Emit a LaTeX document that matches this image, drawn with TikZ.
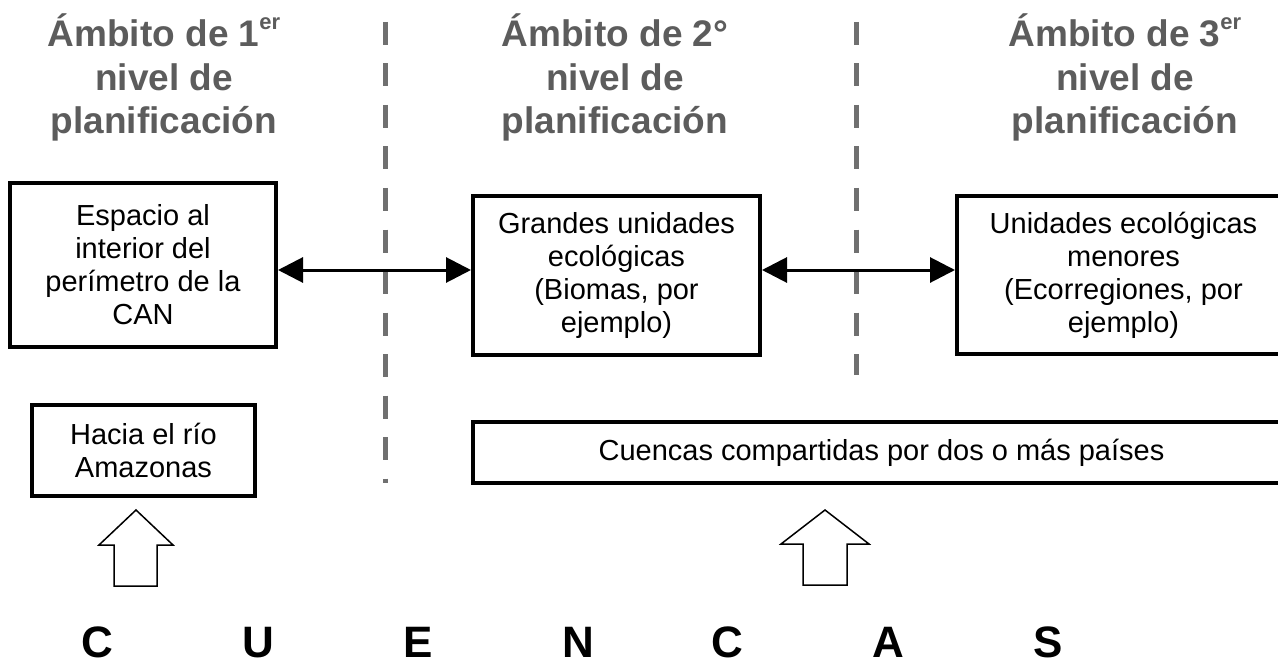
\documentclass[tikz,border=0pt]{standalone}
\usepackage{fontspec}
\setmainfont{Liberation Sans}
\usetikzlibrary{arrows.meta,calc}
\definecolor{hdrgray}{RGB}{92,92,92}
\definecolor{dashgray}{RGB}{112,112,112}
\newcommand{\supx}[1]{\raisebox{17pt}{\fontsize{22}{22}\selectfont\bfseries #1}}
\begin{document}
\begin{tikzpicture}[x=1pt,y=-1pt,
  hdr/.style={anchor=base,text=hdrgray,font=\fontsize{37}{42}\selectfont\bfseries,inner sep=0pt},
  boxnode/.style={draw=black,line width=4pt,align=center,inner sep=0pt,
     font=\fontsize{29}{33}\selectfont},
  dline/.style={draw=dashgray,line width=5pt,dash pattern=on 23pt off 18.5pt},
  dbl/.style={line width=3pt,{Triangle[length=25pt,width=25pt]}-{Triangle[length=25pt,width=25pt]}},
  blockarrow/.style={draw=black,line width=1.5pt,fill=white,line join=miter},
  letter/.style={anchor=base,font=\fontsize{44}{48}\selectfont\bfseries,inner sep=0pt,text depth=0pt}]
\useasboundingbox (0,0) rectangle (1278,666);
\fill[white] (0,0) rectangle (1278,666);

% headers
\node[hdr] (h1a) at (164,47) {Ámbito de 1\supx{er}};
\node[hdr] (h1b) at (164,91) {nivel de};
\node[hdr] (h1c) at (164,134) {planificación};
\node[hdr] (h2a) at (615,47) {Ámbito de 2°};
\node[hdr] (h2b) at (615,91) {nivel de};
\node[hdr] (h2c) at (615,134) {planificación};
\node[hdr] (h3a) at (1125,47) {Ámbito de 3\supx{er}};
\node[hdr] (h3b) at (1125,91) {nivel de};
\node[hdr] (h3c) at (1125,134) {planificación};

% dashed separators
\coordinate (d1t) at (385,22);
\coordinate (d1b) at (385,483);
\coordinate (d2t) at (856,22);
\coordinate (d2b) at (856,375);
\draw[dline] (d1t) -- (d1b);
\draw[dline] (d2t) -- (d2b);

% boxes
\node[boxnode,minimum width=266pt,minimum height=164pt] (b1) at (143,265)
  {Espacio al\\interior del\\perímetro de la\\CAN};
\node[boxnode,minimum width=287pt,minimum height=159pt] (b2) at (616.5,275.5)
  {Grandes unidades\\ecológicas\\(Biomas, por\\ejemplo)};
\node[boxnode,minimum width=333pt,minimum height=158pt] (b3) at (1123.5,275)
  {Unidades ecológicas\\menores\\(Ecorregiones, por\\ejemplo)};
\node[boxnode,minimum width=223pt,minimum height=91pt] (b4) at (143.5,450.5)
  {Hacia el río\\Amazonas};
\node[boxnode,minimum width=817pt,minimum height=61pt] (b5) at (881.5,452.5)
  {Cuencas compartidas por dos o más países};

% double arrows
\draw[dbl] ($(b1.east)+(0,5)$) -- ($(b2.west)+(0,-5.5)$);
\draw[dbl] ($(b2.east)+(0,-5.5)$) -- ($(b3.west)+(0,-5)$);

% block arrows
\draw[blockarrow] (136,510) -- (173,545) -- (157,545) -- (157,586) -- (114,586) -- (114,545) -- (99,545) -- cycle;
\draw[blockarrow] (825,510) -- (869,544) -- (847,544) -- (847,585) -- (803,585) -- (803,544) -- (781,544) -- cycle;

% CUENCAS
\node[letter] (l1) at (97,657) {C};
\node[letter] (l2) at (258,657) {U};
\node[letter] (l3) at (418,657) {E};
\node[letter] (l4) at (578,657) {N};
\node[letter] (l5) at (727,657) {C};
\node[letter] (l6) at (888,657) {A};
\node[letter] (l7) at (1048,657) {S};
\end{tikzpicture}
\end{document}
